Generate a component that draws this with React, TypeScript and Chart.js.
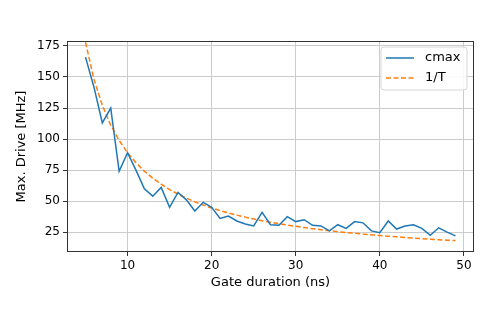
import React, { useEffect, useRef } from "react";
import { Chart, registerables } from "chart.js";

Chart.register(...registerables);

const gateDurations = [5, 6, 7, 8, 9, 10, 11, 12, 13, 14, 15, 16, 17, 18, 19, 20, 21, 22, 23, 24, 25, 26, 27, 28, 29, 30, 31, 32, 33, 34, 35, 36, 37, 38, 39, 40, 41, 42, 43, 44, 45, 46, 47, 48, 49];
const cmaxValues = [166, 142, 113, 125, 74, 89, 75, 60, 54, 61, 45, 57, 51, 42, 49, 45, 36, 38, 34, 31.5, 30, 41, 31, 30.5, 37.5, 33.5, 35, 30.5, 30, 26, 31, 28, 33.5, 32.5, 26, 24.5, 34, 27.5, 30, 31, 28, 22.5, 28.5, 25, 22];
const invTValues = [178, 148.3, 127.1, 111.3, 98.9, 89, 80.9, 74.2, 68.5, 63.6, 59.3, 55.6, 52.4, 49.4, 46.8, 44.5, 42.4, 40.5, 38.7, 37.1, 35.6, 34.2, 33, 31.8, 30.7, 29.7, 28.7, 27.8, 27, 26.2, 25.4, 24.7, 24.1, 23.4, 22.8, 22.3, 21.7, 21.2, 20.7, 20.2, 19.8, 19.3, 18.9, 18.5, 18.2];
const xTicks = [10, 20, 30, 40, 50];
const yTicks = [25, 50, 75, 100, 125, 150, 175];
const seriesNames = ["cmax", "1/T"];

const BLUE = "#1f77b4";
const ORANGE = "#ff7f0e";
const FONT = "'DejaVu Sans', sans-serif";

const framePlugin = {
  id: "frame",
  afterDatasetsDraw(chart: any) {
    const { ctx, chartArea: a } = chart;
    ctx.save();
    ctx.strokeStyle = "#333333";
    ctx.lineWidth = 1;
    ctx.strokeRect(a.left + 0.5, a.top + 0.5, a.right - a.left - 1, a.bottom - a.top - 1);
    ctx.restore();
  },
};

const legendPlugin = {
  id: "mplLegend",
  afterDraw(chart: any) {
    const { ctx, chartArea: a } = chart;
    const right = a.right - 7;
    const top = a.top + 6;
    const w = 86;
    const h = 43;
    const left = right - w;
    ctx.save();
    ctx.beginPath();
    const r = 3;
    ctx.moveTo(left + r, top);
    ctx.lineTo(right - r, top);
    ctx.quadraticCurveTo(right, top, right, top + r);
    ctx.lineTo(right, top + h - r);
    ctx.quadraticCurveTo(right, top + h, right - r, top + h);
    ctx.lineTo(left + r, top + h);
    ctx.quadraticCurveTo(left, top + h, left, top + h - r);
    ctx.lineTo(left, top + r);
    ctx.quadraticCurveTo(left, top, left + r, top);
    ctx.closePath();
    ctx.fillStyle = "rgba(255,255,255,0.85)";
    ctx.fill();
    ctx.strokeStyle = "#d6d6d6";
    ctx.lineWidth = 1;
    ctx.stroke();
    const colors = [BLUE, ORANGE];
    const dashes = [[], [5, 2.5]];
    seriesNames.forEach((name, i) => {
      const y = top + 11 + i * 20;
      ctx.beginPath();
      ctx.setLineDash(dashes[i]);
      ctx.strokeStyle = colors[i];
      ctx.lineWidth = 1.5;
      ctx.moveTo(left + 5, y);
      ctx.lineTo(left + 33, y);
      ctx.stroke();
      ctx.setLineDash([]);
      ctx.fillStyle = "#000";
      ctx.font = `13px ${FONT}`;
      ctx.textBaseline = "middle";
      ctx.textAlign = "left";
      ctx.fillText(name, left + 44, y);
    });
    ctx.restore();
  },
};

export default function App() {
  const ref = useRef<HTMLCanvasElement>(null);
  useEffect(() => {
    const chart = new Chart(ref.current!, {
      type: "line",
      data: {
        datasets: [
          {
            label: seriesNames[0],
            data: gateDurations.map((x, i) => ({ x, y: cmaxValues[i] })),
            borderColor: BLUE,
            borderWidth: 1.5,
            pointRadius: 0,
            tension: 0,
          },
          {
            label: seriesNames[1],
            data: gateDurations.map((x, i) => ({ x, y: invTValues[i] })),
            borderColor: ORANGE,
            borderWidth: 1.5,
            borderDash: [5, 2.5],
            pointRadius: 0,
            tension: 0,
          },
        ],
      },
      options: {
        animation: false,
        responsive: false,
        devicePixelRatio: 1,
        layout: { padding: { top: 41, right: 24, bottom: 42, left: 14 } },
        plugins: { legend: { display: false }, tooltip: { enabled: false } },
        scales: {
          x: {
            type: "linear",
            min: 2.8,
            max: 51.2,
            afterBuildTicks: (s: any) => {
              s.ticks = xTicks.map((v) => ({ value: v }));
            },
            afterFit: (s: any) => {
              s.height = 38;
            },
            grid: { color: "#cccccc", lineWidth: 1, tickLength: 4, tickColor: "#333", drawTicks: true },
            border: { display: false },
            ticks: { color: "#000", font: { family: FONT, size: 12 }, padding: 3, maxRotation: 0 },
            title: { display: true, text: "Gate duration (ns)", color: "#000", font: { family: FONT, size: 13 }, padding: 0 },
          },
          y: {
            type: "linear",
            min: 9,
            max: 179,
            afterBuildTicks: (s: any) => {
              s.ticks = yTicks.map((v) => ({ value: v }));
            },
            afterFit: (s: any) => {
              s.width = 53;
            },
            grid: { color: "#cccccc", lineWidth: 1, tickLength: 4, tickColor: "#333", drawTicks: true },
            border: { display: false },
            ticks: { color: "#000", font: { family: FONT, size: 12 }, padding: 3 },
            title: { display: true, text: "Max. Drive [MHz]", color: "#000", font: { family: FONT, size: 13 }, padding: 0 },
          },
        },
      },
      plugins: [framePlugin, legendPlugin],
    });
    return () => chart.destroy();
  }, []);
  return (
    <div style={{ position: "absolute", left: 0, top: 0, width: 498, height: 332, background: "#fff" }}>
      <canvas ref={ref} width={498} height={332} style={{ width: 498, height: 332 }} />
    </div>
  );
}
